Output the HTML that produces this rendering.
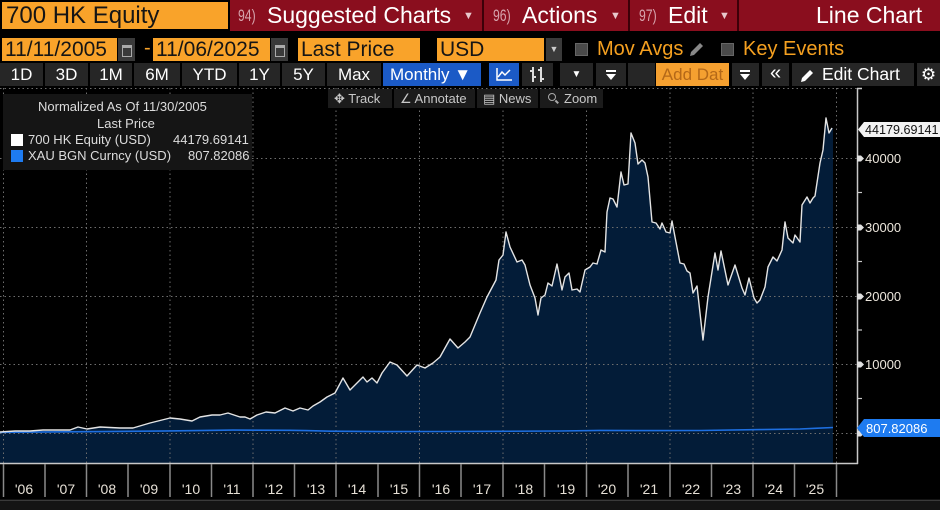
<!DOCTYPE html>
<html><head><meta charset="utf-8">
<style>
*{margin:0;padding:0;box-sizing:border-box}
body{width:940px;height:510px;background:#000;overflow:hidden;position:relative;font-family:"Liberation Sans","DejaVu Sans",sans-serif}
.a{position:absolute;white-space:nowrap}
.or{background:#f9a32a;color:#151515}
.rb{color:#fff;font-size:23px;top:2px;line-height:27px}
.num{color:#d6a3ac;font-size:17px;top:6px;line-height:20px;transform:scaleX(0.72);transform-origin:left center}
.dd{color:#e8c8cc;font-size:11px;top:10px}
.btn{position:absolute;top:63px;height:23px;background:#262626;color:#fff;font-size:17px;line-height:23px;text-align:center;white-space:nowrap}
.tb{position:absolute;top:89px;height:19px;background:#1b1b1b;color:#c8c8c8;font-size:13px;line-height:19px;white-space:nowrap;padding-left:6px}
.cal{position:absolute;top:38px;width:17px;height:23px;background:#3a3a3a}
.cal:after{content:"";position:absolute;left:4px;top:7px;width:8px;height:8px;border:1.5px solid #aaa;border-top-width:3px}
.lg{position:absolute;font-size:13px;color:#dcdcdc;white-space:nowrap}
</style></head>
<body>
<!-- Row 1 -->
<div class="a or" style="left:2px;top:2px;width:226px;height:27px;font-size:24px;line-height:27px;padding-left:4px">700 HK Equity</div>
<div class="a" style="left:230px;top:0;width:710px;height:31px;background:#8a0e1e"></div>
<div class="a" style="left:482px;top:0;width:2px;height:31px;background:#3c0008"></div>
<div class="a" style="left:628px;top:0;width:2px;height:31px;background:#3c0008"></div>
<div class="a" style="left:737px;top:0;width:2px;height:31px;background:#3c0008"></div>
<div class="a num" style="left:238px">94)</div>
<div class="a rb" style="left:267px">Suggested Charts</div>
<div class="a dd" style="left:463px">▼</div>
<div class="a num" style="left:493px">96)</div>
<div class="a rb" style="left:522px">Actions</div>
<div class="a dd" style="left:610px">▼</div>
<div class="a num" style="left:639px">97)</div>
<div class="a rb" style="left:668px">Edit</div>
<div class="a dd" style="left:719px">▼</div>
<div class="a rb" style="left:816px">Line Chart</div>

<!-- Row 2 -->
<div class="a or" style="left:2px;top:38px;width:115px;height:23px;font-size:21px;line-height:23px;padding-left:3px">11/11/2005</div>
<div class="cal" style="left:118px"></div>
<div class="a" style="left:144px;top:37px;color:#f9a32a;font-size:20px">-</div>
<div class="a or" style="left:153px;top:38px;width:117px;height:23px;font-size:21px;line-height:23px;padding-left:3px">11/06/2025</div>
<div class="cal" style="left:271px"></div>
<div class="a or" style="left:298px;top:38px;width:122px;height:23px;font-size:21px;line-height:23px;padding-left:3px">Last Price</div>
<div class="a or" style="left:437px;top:38px;width:107px;height:23px;font-size:21px;line-height:23px;padding-left:3px">USD</div>
<div class="a" style="left:546px;top:38px;width:16px;height:23px;background:#3a3a3a;color:#ccc;font-size:9px;line-height:23px;text-align:center">▼</div>
<div class="a" style="left:575px;top:43px;width:13px;height:13px;background:#4a4a4a;border:1px solid #666"></div>
<div class="a" style="left:597px;top:38px;color:#f5a020;font-size:20px;line-height:23px">Mov Avgs</div>
<svg class="a" style="left:686px;top:40px" width="20" height="20" viewBox="0 0 20 20"><path d="M4 16 L5 12 L14 3 L17 6 L8 15 Z" fill="#888"/></svg>
<div class="a" style="left:721px;top:43px;width:13px;height:13px;background:#4a4a4a;border:1px solid #666"></div>
<div class="a" style="left:743px;top:38px;color:#f5a020;font-size:20px;line-height:23px">Key Events</div>

<!-- Row 3 -->
<div class="btn" style="left:0;width:43px">1D</div>
<div class="btn" style="left:45px;width:43px">3D</div>
<div class="btn" style="left:90px;width:42px">1M</div>
<div class="btn" style="left:134px;width:46px">6M</div>
<div class="btn" style="left:182px;width:55px">YTD</div>
<div class="btn" style="left:239px;width:41px">1Y</div>
<div class="btn" style="left:282px;width:43px">5Y</div>
<div class="btn" style="left:327px;width:54px">Max</div>
<div class="btn" style="left:383px;width:98px;background:#1b5ac6;text-align:left;padding-left:7px">Monthly ▼</div>
<div class="btn" style="left:489px;width:30px;background:#1b5ac6"><svg width="30" height="23" viewBox="0 0 30 23"><path d="M8 5 V17 H23" stroke="#fff" stroke-width="1.5" fill="none"/><path d="M9 14 L13 9 L16 12 L21 7" stroke="#fff" stroke-width="1.5" fill="none"/></svg></div>
<div class="btn" style="left:522px;width:31px"><svg width="31" height="23" viewBox="0 0 31 23"><path d="M11 4 V19 M11 8 H8 M11 14 H14 M19 4 V19 M19 7 H16 M19 16 H22" stroke="#ddd" stroke-width="2" fill="none"/></svg></div>
<div class="btn" style="left:560px;width:33px;font-size:10px">▼</div>
<div class="btn" style="left:596px;width:30px"><svg width="30" height="23" viewBox="0 0 30 23"><rect x="10" y="7" width="10" height="2" fill="#fff"/><polygon points="10,11 20,11 15,17" fill="#fff"/></svg></div>
<div class="btn" style="left:628px;width:27px"></div>
<div class="btn" style="left:656px;width:73px;background:#f5a030;color:#b46818">Add Dat</div>
<div class="btn" style="left:732px;width:27px"><svg width="27" height="23" viewBox="0 0 27 23"><rect x="8" y="7" width="10" height="2" fill="#fff"/><polygon points="8,11 18,11 13,17" fill="#fff"/></svg></div>
<div class="btn" style="left:762px;width:27px;font-size:20px;line-height:21px">«</div>
<div class="btn" style="left:792px;width:122px;text-align:left;padding-left:30px;font-size:17.5px">Edit Chart<svg style="position:absolute;left:6px;top:3px" width="18" height="18" viewBox="0 0 18 18"><path d="M3 16 L4 12 L12 4 L15 7 L7 15 Z" fill="#fff"/></svg></div>
<div class="btn" style="left:917px;width:23px;font-size:17px">⚙</div>

<!-- Chart -->
<svg class="a" style="left:0;top:0" width="940" height="510" viewBox="0 0 940 510">
  <rect x="0" y="499" width="940" height="11" fill="#141414"/>
  <line x1="0" y1="500.5" x2="940" y2="500.5" stroke="#3a3a3a" stroke-width="1"/>
  <polygon fill="#031c38" points="0,432 15,431 30,431 43,430 55,430 70,430 78,427 87,429 100,427 120,428 133,428 150,423 170,418 180,419 192,421 200,417 212,415 220,415 228,413 240,417 245,417 250,419 257,415 266,412 275,413 285,408 293,411 300,408 308,410 313,406 320,402 327,397 335,393 343,378 350,390 357,383 363,377 367,382 372,378 377,383 382,373 390,362 397,365 407,376 417,365 425,368 433,363 440,357 450,339 458,348 465,342 470,337 480,313 487,297 496,280 499,260 503,255 506,232 510,247 517,262 522,260 525,265 530,285 535,298 538,315 541,298 545,295 548,283 552,286 557,264 562,290 565,277 569,273 572,290 577,289 580,292 585,270 590,267 593,263 597,264 601,250 605,252 607,212 610,198 613,199 617,207 621,172 624,185 628,184 631,133 635,143 638,164 642,160 645,163 648,177 652,222 656,223 660,229 662,223 666,232 670,233 672,221 675,237 680,263 684,264 687,271 690,273 693,293 697,286 703,340 708,297 715,253 718,270 721,251 728,285 735,265 742,288 745,295 749,278 754,298 757,303 760,300 765,287 768,267 773,257 777,261 782,250 785,222 788,238 793,243 795,235 800,242 802,205 807,197 810,203 813,198 815,196 820,163 823,150 826,118 829,133 832,128 833,128 833,463 0,463"/>
  <g stroke="#6e6e6e" stroke-width="1" stroke-dasharray="1.5,3" fill="none">
    <line x1="0" y1="88.5" x2="857" y2="88.5"/>
    <line x1="0" y1="158.5" x2="857" y2="158.5"/>
    <line x1="0" y1="227.5" x2="857" y2="227.5"/>
    <line x1="0" y1="296.5" x2="857" y2="296.5"/>
    <line x1="0" y1="364.5" x2="857" y2="364.5"/>
    <line x1="0" y1="433.5" x2="857" y2="433.5"/>
    <line x1="3.5" y1="88" x2="3.5" y2="463"/>
    <line x1="86.5" y1="88" x2="86.5" y2="463"/>
    <line x1="170" y1="88" x2="170" y2="463"/>
    <line x1="253" y1="88" x2="253" y2="463"/>
    <line x1="336" y1="88" x2="336" y2="463"/>
    <line x1="419.5" y1="88" x2="419.5" y2="463"/>
    <line x1="503" y1="88" x2="503" y2="463"/>
    <line x1="586.5" y1="88" x2="586.5" y2="463"/>
    <line x1="670" y1="88" x2="670" y2="463"/>
    <line x1="753" y1="88" x2="753" y2="463"/>
    <line x1="836.5" y1="88" x2="836.5" y2="463"/>
  </g>
  <polyline fill="none" stroke="#1e6fe0" stroke-width="1.6" points="0,432.3 100,431.6 170,430.9 233,430.1 290,430.3 306,430.6 330,431.2 380,431.6 440,431.5 500,431.3 560,431 600,430.4 660,430.6 700,430.5 760,429.6 800,429 815,428.3 833,427.5"/>
  <polyline fill="none" stroke="#e4e4e4" stroke-width="1.4" stroke-linejoin="round" points="0,432 15,431 30,431 43,430 55,430 70,430 78,427 87,429 100,427 120,428 133,428 150,423 170,418 180,419 192,421 200,417 212,415 220,415 228,413 240,417 245,417 250,419 257,415 266,412 275,413 285,408 293,411 300,408 308,410 313,406 320,402 327,397 335,393 343,378 350,390 357,383 363,377 367,382 372,378 377,383 382,373 390,362 397,365 407,376 417,365 425,368 433,363 440,357 450,339 458,348 465,342 470,337 480,313 487,297 496,280 499,260 503,255 506,232 510,247 517,262 522,260 525,265 530,285 535,298 538,315 541,298 545,295 548,283 552,286 557,264 562,290 565,277 569,273 572,290 577,289 580,292 585,270 590,267 593,263 597,264 601,250 605,252 607,212 610,198 613,199 617,207 621,172 624,185 628,184 631,133 635,143 638,164 642,160 645,163 648,177 652,222 656,223 660,229 662,223 666,232 670,233 672,221 675,237 680,263 684,264 687,271 690,273 693,293 697,286 703,340 708,297 715,253 718,270 721,251 728,285 735,265 742,288 745,295 749,278 754,298 757,303 760,300 765,287 768,267 773,257 777,261 782,250 785,222 788,238 793,243 795,235 800,242 802,205 807,197 810,203 813,198 815,196 820,163 823,150 826,118 829,133 832,128"/>
  <!-- axes -->
  <line x1="857.5" y1="88" x2="857.5" y2="464" stroke="#c8c8c8" stroke-width="1.5"/>
  <line x1="857" y1="88.5" x2="862" y2="88.5" stroke="#c8c8c8" stroke-width="1.5"/>
  <line x1="0" y1="463.5" x2="858" y2="463.5" stroke="#c8c8c8" stroke-width="1.5"/>
  <g stroke="#8a8a8a" stroke-width="1.5">
    <line x1="3.5" y1="464" x2="3.5" y2="497"/><line x1="45" y1="464" x2="45" y2="497"/>
    <line x1="86.5" y1="464" x2="86.5" y2="497"/><line x1="128" y1="464" x2="128" y2="497"/>
    <line x1="170" y1="464" x2="170" y2="497"/><line x1="211.5" y1="464" x2="211.5" y2="497"/>
    <line x1="253" y1="464" x2="253" y2="497"/><line x1="294.5" y1="464" x2="294.5" y2="497"/>
    <line x1="336" y1="464" x2="336" y2="497"/><line x1="378" y1="464" x2="378" y2="497"/>
    <line x1="419.5" y1="464" x2="419.5" y2="497"/><line x1="461" y1="464" x2="461" y2="497"/>
    <line x1="503" y1="464" x2="503" y2="497"/><line x1="544.5" y1="464" x2="544.5" y2="497"/>
    <line x1="586.5" y1="464" x2="586.5" y2="497"/><line x1="628" y1="464" x2="628" y2="497"/>
    <line x1="670" y1="464" x2="670" y2="497"/><line x1="711.5" y1="464" x2="711.5" y2="497"/>
    <line x1="753" y1="464" x2="753" y2="497"/><line x1="794.5" y1="464" x2="794.5" y2="497"/>
    <line x1="836.5" y1="464" x2="836.5" y2="497"/>
  </g>
  <g font-family="Liberation Sans, sans-serif" font-size="14" fill="#e6e0d6" text-anchor="middle">
    <text x="24" y="494">'06</text><text x="66" y="494">'07</text><text x="107" y="494">'08</text>
    <text x="149" y="494">'09</text><text x="191" y="494">'10</text><text x="232" y="494">'11</text>
    <text x="274" y="494">'12</text><text x="316" y="494">'13</text><text x="357" y="494">'14</text>
    <text x="399" y="494">'15</text><text x="441" y="494">'16</text><text x="482" y="494">'17</text>
    <text x="524" y="494">'18</text><text x="566" y="494">'19</text><text x="607" y="494">'20</text>
    <text x="649" y="494">'21</text><text x="691" y="494">'22</text><text x="732" y="494">'23</text>
    <text x="774" y="494">'24</text><text x="815" y="494">'25</text>
  </g>
  <!-- y ticks -->
  <g fill="#e0e0e0">
    <polygon points="857,155.5 861,155.5 864,158.5 861,161.5 857,161.5"/>
    <polygon points="857,224.5 861,224.5 864,227.5 861,230.5 857,230.5"/>
    <polygon points="857,293.5 861,293.5 864,296.5 861,299.5 857,299.5"/>
    <polygon points="857,361.5 861,361.5 864,364.5 861,367.5 857,367.5"/>
    <polygon points="857,430.5 861,430.5 864,433.5 861,436.5 857,436.5"/>
  </g>
  <g stroke="#c8c8c8" stroke-width="1.2">
    <line x1="857" y1="192.5" x2="862" y2="192.5"/>
    <line x1="857" y1="261.5" x2="862" y2="261.5"/>
    <line x1="857" y1="330" x2="862" y2="330"/>
    <line x1="857" y1="398.5" x2="862" y2="398.5"/>
  </g>
  <g font-family="Liberation Sans, sans-serif" font-size="13" fill="#ece6dc">
    <text x="865" y="163">40000</text>
    <text x="865" y="232">30000</text>
    <text x="865" y="301">20000</text>
    <text x="865" y="369">10000</text>
  </g>
  <polygon points="858,129.5 864,122 940,122 940,137 864,137" fill="#f2f2f2"/>
  <text x="865" y="134" font-family="Liberation Sans, sans-serif" font-size="12.6" fill="#111">44179.69141</text>
  <polygon points="857,428 864,419 940,419 940,437 864,437" fill="#1e7bf0"/>
  <text x="866" y="433" font-family="Liberation Sans, sans-serif" font-size="13" fill="#fff">807.82086</text>
</svg>

<!-- Track bar -->
<div class="tb" style="left:328px;width:64px">✥ Track</div>
<div class="tb" style="left:394px;width:81px">∠ Annotate</div>
<div class="tb" style="left:477px;width:61px">▤ News</div>
<div class="tb" style="left:540px;width:63px;padding-left:24px">Zoom<div style="position:absolute;left:8px;top:4px;width:8px;height:8px;border:1.5px solid #aaa;border-radius:50%"></div><div style="position:absolute;left:15px;top:12px;width:4px;height:1.5px;background:#aaa;transform:rotate(45deg)"></div></div>

<!-- Legend -->
<div class="a" style="left:3px;top:94px;width:249px;height:76px;background:#151515"></div>
<div class="lg" style="left:38px;top:99px">Normalized As Of 11/30/2005</div>
<div class="lg" style="left:97px;top:116px">Last Price</div>
<div class="a" style="left:11px;top:134px;width:12px;height:12px;background:#fff"></div>
<div class="lg" style="left:28px;top:132px">700 HK Equity (USD)</div>
<div class="lg" style="left:173px;top:132px">44179.69141</div>
<div class="a" style="left:11px;top:150px;width:12px;height:12px;background:#1e7bf0"></div>
<div class="lg" style="left:28px;top:148px">XAU BGN Curncy (USD)</div>
<div class="lg" style="left:188px;top:148px">807.82086</div>
</body></html>
